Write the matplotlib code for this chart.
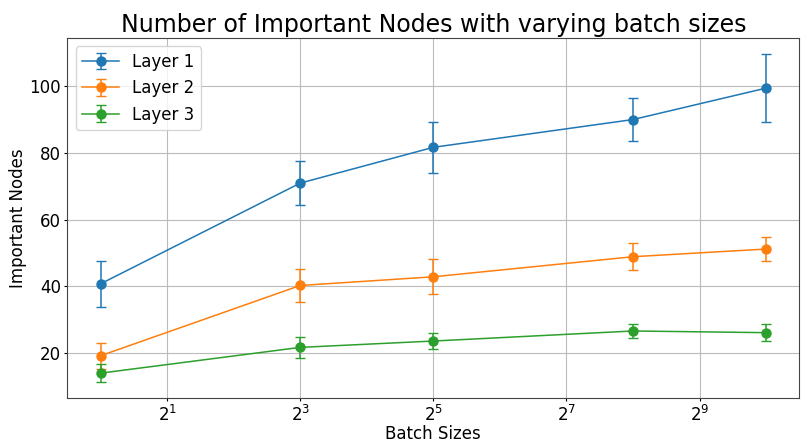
import numpy as np
import matplotlib
matplotlib.use('Agg')
import matplotlib.pyplot as plt

# batch sizes and measured important-node counts (mean +/- std)
batch_sizes = [1, 8, 32, 256, 1024]
layer1_mean = [40.8, 70.9, 81.6, 89.9, 99.3]
layer1_err  = [6.8, 6.6, 7.6, 6.4, 10.1]
layer2_mean = [19.3, 40.3, 42.9, 48.9, 51.2]
layer2_err  = [3.9, 5.0, 5.2, 4.1, 3.7]
layer3_mean = [14.1, 21.8, 23.7, 26.7, 26.2]
layer3_err  = [2.6, 3.1, 2.4, 2.1, 2.45]
xtick_vals = [2, 8, 32, 128, 512]

fig, ax = plt.subplots(figsize=(8.01, 4.41), dpi=100)

for mean, err, lab in [(layer1_mean, layer1_err, 'Layer 1'),
                       (layer2_mean, layer2_err, 'Layer 2'),
                       (layer3_mean, layer3_err, 'Layer 3')]:
    ax.errorbar(batch_sizes, mean, yerr=err, marker='o', markersize=6.5,
                linewidth=1.1, capsize=3.5, elinewidth=1.1, label=lab)

ax.set_xscale('log', base=2)
ax.set_xticks(xtick_vals)
ax.xaxis.set_minor_locator(matplotlib.ticker.NullLocator())
ax.grid(True, color='#bbbbbb', linewidth=0.8)
ax.set_axisbelow(True)
for s in ax.spines.values():
    s.set_color('#444444')

ax.tick_params(labelsize=12, pad=2, length=2.5)
ax.set_xlabel('Batch Sizes', fontsize=12, labelpad=0)
ax.set_ylabel('Important Nodes', fontsize=12, labelpad=2)
ax.set_title('Number of Important Nodes with varying batch sizes', fontsize=17, pad=4)
ax.legend(loc='upper left', fontsize=12, handlelength=2.2)

plt.subplots_adjust(left=0.084, right=0.998, top=0.914, bottom=0.097)
fig.savefig('out.png', dpi=100)
